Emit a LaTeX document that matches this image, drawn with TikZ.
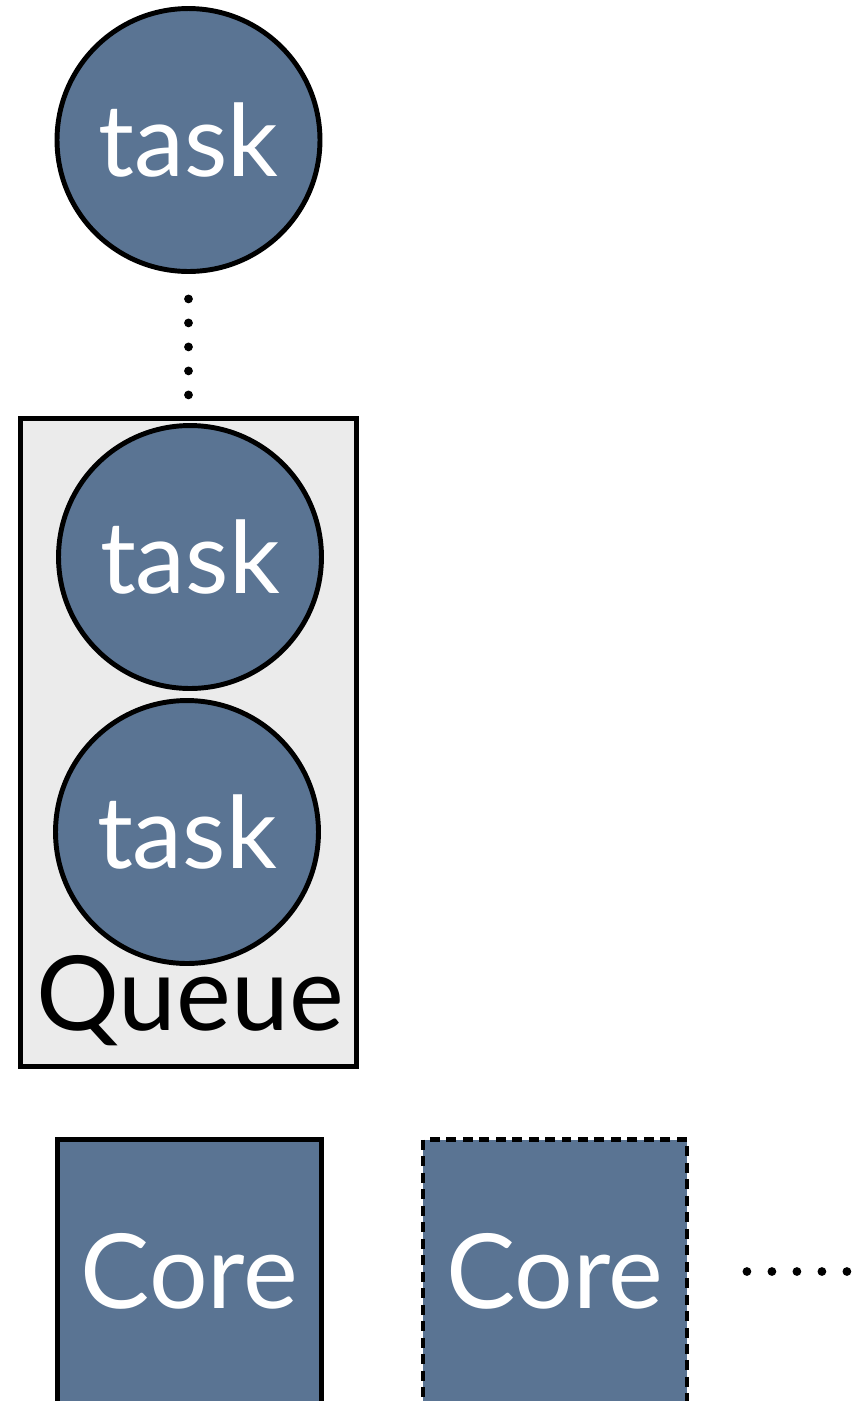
\documentclass[tikz,border=0pt]{standalone}
\usepackage{fontspec}
\setmainfont{Lato}
\usepackage{tikz}
\usetikzlibrary{positioning}
\definecolor{taskblue}{HTML}{5A7493}
\definecolor{queuegray}{HTML}{EBEBEB}

\begin{document}
\begin{tikzpicture}[
  x=0.02cm, y=-0.02cm,
  task/.style={
    circle, draw=black, line width=2.8pt, fill=taskblue,
    minimum size=5.26cm, inner sep=0pt,
    text=white, font=\fontsize{57}{60}\selectfont,
  },
  core/.style={
    rectangle, draw=black, line width=2.8pt, fill=taskblue,
    minimum size=5.28cm, inner sep=0pt,
    text=white, font=\fontsize{59}{60}\selectfont,
  },
  queuebox/.style={
    rectangle, draw=black, line width=2.8pt, fill=queuegray,
    minimum width=6.72cm, minimum height=12.96cm,
  },
  dotline/.style={line width=5pt, line cap=round, dash pattern=on 0pt off 0.48cm},
]
\useasboundingbox (0,0) rectangle (861,1401);
\clip (0,0) rectangle (861,1401);

\node[queuebox] (queue) at (188.5,742.5) {};
\node[task] (task1) at (188.5,140) {task};
\node[task] (task2) at (190,557) {task};
\node[task] (task3) at (187,832) {task};
\node[anchor=base, font=\fontsize{59}{60}\selectfont] (qlabel) at (190,1030) {Queue};

\node[core] (core1) at (189.5,1271.5) {Core};
\node[core, dash pattern=on 0.2cm off 0.13cm] (core2) at (555,1271.5) {Core};
\coordinate (more) at (850,1271.5);

% waiting tasks and further cores
\draw[dotline, shorten <=0.5cm, shorten >=0.3cm] (task1.south) -- (task1.south |- queue.north);
\draw[dotline, dash pattern=on 0pt off 0.5cm, shorten <=1.15cm] (core2.east) -- (more);

\end{tikzpicture}
\end{document}
